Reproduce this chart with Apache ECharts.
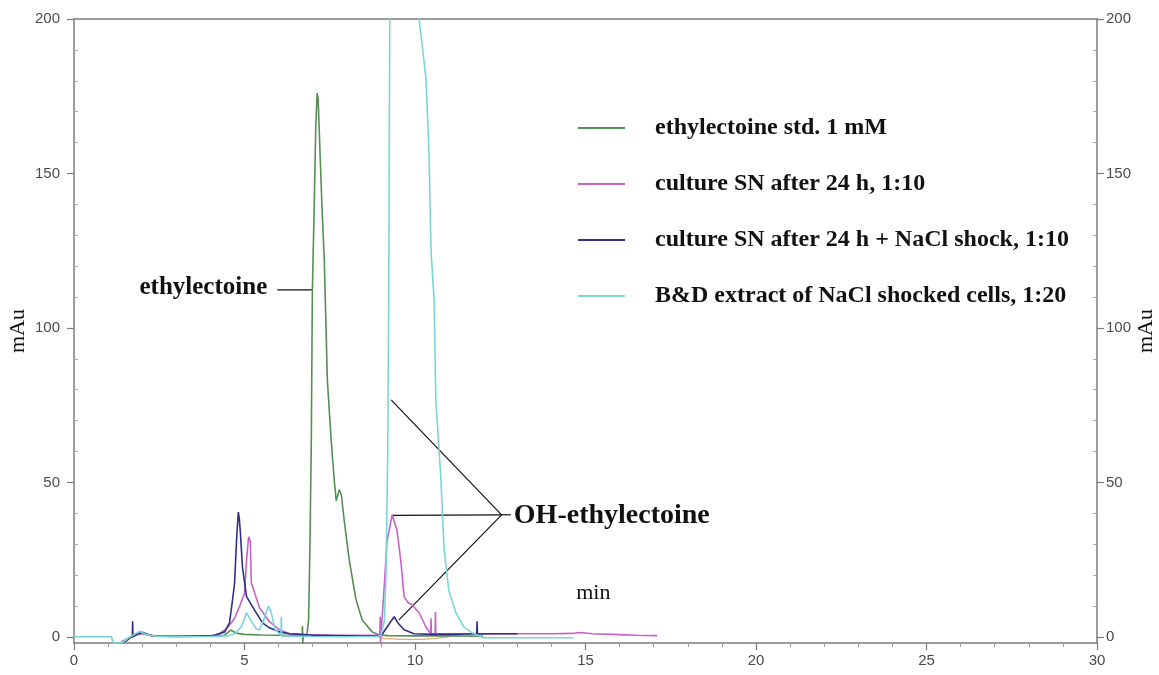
<!DOCTYPE html>
<html>
<head>
<meta charset="utf-8">
<title>HPLC chromatogram – ethylectoine</title>
<script src="https://cdn.jsdelivr.net/npm/echarts@6/dist/echarts.min.js"></script>
<style>
  html, body { margin: 0; padding: 0; background: #fff; }
  #chart { width: 1159px; height: 675px; }
</style>
</head>
<body>
<div id="chart"></div>
<script>
// Retention time (min) / absorbance (mAu) pairs for each run
const ethylectoineStd = [
  [1.4,-1.8],[1.6,-0.5],[1.8,0.8],[2.0,1.2],[2.3,0.3],[3,0.2],[4,0.3],[4.4,0.5],[4.6,2.2],[4.75,1.2],
  [5.0,0.8],[5.5,0.6],[6.0,0.5],[6.5,0.4],[6.69,0.3],[6.7,3.5],[6.71,-2.5],[6.72,0.3],[6.8,0.3],
  [6.84,1.5],[6.88,5.5],[6.92,30],[6.96,64],[6.99,112],[7.04,137],[7.09,165],[7.13,176],[7.16,174],
  [7.22,155],[7.28,137],[7.34,122],[7.43,83],[7.54,64],[7.63,51],[7.69,44],[7.78,47.6],[7.84,46],
  [7.92,38],[8.07,25],[8.27,12],[8.45,5.5],[8.74,1.6],[8.95,0.6],[9.2,0.4],[10,0.3],[11,0.3],[12,0.2]
];
const cultureSN24h = [
  [1.4,-1.5],[1.6,-0.5],[1.8,0.5],[2.0,1],[2.3,0.3],[3,0.2],[4,0.2],[4.27,1],[4.5,2.9],[4.71,6],
  [4.85,9.7],[5.0,14],[5.06,25],[5.12,32.4],[5.17,31],[5.2,17.5],[5.44,9.4],[5.73,4.9],[6.02,2.3],
  [6.32,1],[6.8,0.7],[7.5,0.6],[8.5,0.5],[8.97,0.5],[8.98,6.5],[8.99,-2.5],[9.0,0.5],[9.09,15],
  [9.18,31],[9.33,39.5],[9.47,34.6],[9.59,24],[9.68,13],[9.8,11],[9.91,10.4],[10.12,7.8],[10.32,3.2],
  [10.46,1],[10.47,6],[10.48,1],[10.59,1],[10.6,8],[10.61,1],[11,1],[12,1],[13,1],[14,1],[14.6,1.1],
  [14.85,1.4],[15.2,1.0],[15.8,0.8],[16.5,0.5],[17.1,0.4]
];
const cultureSNNaCl = [
  [1.4,-2],[1.55,-1.2],[1.65,-0.3],[1.71,0],[1.72,5],[1.73,0],[1.85,0.8],[2.0,1.5],[2.15,0.8],
  [2.4,0.2],[3,0.1],[3.5,0.2],[4.0,0.3],[4.12,0.5],[4.42,1.6],[4.56,4.5],[4.65,12],[4.71,17.5],
  [4.77,32],[4.82,40.4],[4.85,38],[4.88,33.6],[4.94,22.6],[5.06,13],[5.29,8.7],[5.53,4.5],[5.73,2.9],
  [6.02,1.6],[6.32,1.0],[6.6,0.8],[7,0.5],[8,0.3],[8.9,0.3],[9.05,1],[9.2,3.5],[9.39,6.5],[9.5,4.5],
  [9.68,2.3],[9.97,1],[10.5,0.8],[11,0.8],[11.5,0.9],[11.81,0.9],[11.82,5],[11.83,0.9],[12.2,1],[13.0,1]
];
const bdExtract = [
  [0,0],[1.1,0],[1.15,-2],[1.4,-2],[1.6,-0.3],[1.8,1],[1.93,1.8],[2.1,0.8],[2.4,0.2],[3,0],[4,0.1],
  [4.5,0.3],[4.71,1],[4.91,3.2],[5.06,7.8],[5.2,5],[5.35,2.5],[5.44,2.3],[5.55,5],[5.7,10],[5.78,8],
  [5.9,2.3],[6.07,0.5],[6.08,6.5],[6.09,0.3],[6.5,0.2],[7,0.1],[8,0],[8.9,0.2],[9.0,0.5],[9.1,5],
  [9.15,20],[9.2,60],[9.23,110],[9.26,200],[9.3,240],[9.6,260],[10.0,235],[10.12,200],[10.32,181],
  [10.41,157],[10.47,125],[10.56,109],[10.61,77],[10.76,51],[10.85,29],[10.99,15],[11.2,7.8],
  [11.43,3.2],[11.67,1.3],[12,-0.3],[13,-0.3],[14,-0.3],[14.65,-0.3]
];
// faint baseline trace under the 9–11 min region
const baselineTrace = [[8.9,0],[9.1,-0.5],[9.6,-0.8],[10.2,-0.8],[10.6,-0.5],[11,0]];

const seriesNames = [
  'ethylectoine std. 1 mM',
  'culture SN after 24 h, 1:10',
  'culture SN after 24 h + NaCl shock, 1:10',
  'B&D extract of NaCl shocked cells, 1:20'
];
const seriesColors = ['#568f56', '#c662c6', '#2f2f88', '#79d6d6', '#e9a77a'];

const xTicks = [0, 5, 10, 15, 20, 25, 30];
const yMajor = [0, 50, 100, 150, 200];
const yMinor = [10,20,30,40,60,70,80,90,110,120,130,140,160,170,180,190];
const Y_MIN = -2, Y_MAX = 200;

const axisGray = '#7c7c7c';
const labelFont = { color: '#4a4a4a', fontSize: 15, fontFamily: '"Liberation Sans", Arial, sans-serif' };
const serif = '"Liberation Serif", "Times New Roman", serif';

function yAxisPair(side) {
  return [
    {
      type: 'value', min: Y_MIN, max: Y_MAX, position: side,
      axisLine: { show: true, onZero: false, lineStyle: { color: axisGray, width: 1.5 } },
      axisTick: { show: true, customValues: yMajor, length: 7, lineStyle: { color: axisGray, width: 1.2 } },
      axisLabel: Object.assign({ customValues: yMajor, margin: side === 'left' ? 14 : 9 }, labelFont),
      splitLine: { show: false },
      name: 'mAu', nameLocation: 'middle', nameRotate: 90, nameGap: side === 'left' ? 45 : 38,
      nameMoveOverlap: false,
      nameTextStyle: { fontFamily: serif, fontSize: 22, color: '#111' }
    },
    {
      type: 'value', min: Y_MIN, max: Y_MAX, position: side,
      axisLine: { show: false, onZero: false },
      axisTick: { show: true, inside: true, customValues: yMinor, length: 4, lineStyle: { color: '#aaa', width: 1 } },
      axisLabel: { show: false },
      splitLine: { show: false }
    }
  ];
}

const traces = [ethylectoineStd, cultureSN24h, cultureSNNaCl, bdExtract, baselineTrace];
const names = seriesNames.concat(['baseline']);

const option = {
  backgroundColor: '#fff',
  animation: false,
  color: seriesColors,
  grid: { left: 74, right: 62, top: 19, bottom: 32, containLabel: false, outerBoundsMode: 'none' },
  legend: {
    data: seriesNames,
    orient: 'vertical',
    left: 573, top: 111,
    icon: 'rect', itemWidth: 47, itemHeight: 2, itemGap: 32,
    textStyle: { fontFamily: serif, fontSize: 24, fontWeight: 'bold', color: '#111', lineHeight: 24, padding: [0, 0, 0, 25] }
  },
  xAxis: [
    {
      type: 'value', min: 0, max: 30, interval: 5, position: 'bottom',
      axisLine: { onZero: false, lineStyle: { color: axisGray, width: 1.5 } },
      axisTick: { length: 7, lineStyle: { color: axisGray, width: 1.2 } },
      minorTick: { show: true, splitNumber: 5, length: 4, lineStyle: { color: '#999' } },
      axisLabel: Object.assign({ customValues: xTicks, margin: 10 }, labelFont),
      splitLine: { show: false }
    },
    {
      type: 'value', min: 0, max: 30, position: 'top',
      axisLine: { onZero: false, lineStyle: { color: axisGray, width: 1.5 } },
      axisTick: { show: false }, axisLabel: { show: false }, splitLine: { show: false }
    }
  ],
  yAxis: yAxisPair('left').concat(yAxisPair('right')),
  series: traces.map((d, i) => ({
    name: names[i],
    type: 'line',
    data: d,
    xAxisIndex: 0, yAxisIndex: 0,
    showSymbol: false, symbol: 'none',
    clip: true,
    z: i === 4 ? 1 : 2 + i,
    lineStyle: { width: i === 4 ? 1.2 : 1.6 }
  }))
};

const chart = echarts.init(document.getElementById('chart'), null, { renderer: 'canvas' });
chart.setOption(option);

// annotation anchors in (min, mAu)
const ethLabelLine = [[5.96, 112.3], [6.99, 112.3]];
const ohApex = [12.54, 39.5];
const ohTargets = [[9.30, 76.7], [9.33, 39.3], [9.53, 5.5]];
const ohTail = [12.81, 39.5];
const minLabelAt = [15.23, 14.2];

const toPx = p => chart.convertToPixel({ xAxisIndex: 0, yAxisIndex: 0 }, p);
const lineStyle = { stroke: '#111', lineWidth: 1.2 };
const graphics = [];

const e0 = toPx(ethLabelLine[0]), e1 = toPx(ethLabelLine[1]);
graphics.push({ type: 'line', shape: { x1: e0[0], y1: e0[1], x2: e1[0], y2: e1[1] }, style: lineStyle });
graphics.push({
  type: 'text', x: e0[0] - 10, y: e0[1] - 2,
  style: { text: 'ethylectoine', font: 'bold 25px ' + serif, fill: '#111', textAlign: 'right', textVerticalAlign: 'middle' }
});

const apex = toPx(ohApex);
ohTargets.forEach(t => {
  const p = toPx(t);
  graphics.push({ type: 'line', shape: { x1: apex[0], y1: apex[1], x2: p[0], y2: p[1] }, style: lineStyle });
});
const tail = toPx(ohTail);
graphics.push({ type: 'line', shape: { x1: apex[0], y1: apex[1], x2: tail[0], y2: tail[1] }, style: lineStyle });
graphics.push({
  type: 'text', x: tail[0] + 3, y: tail[1] + 1,
  style: { text: 'OH-ethylectoine', font: 'bold 28px ' + serif, fill: '#111', textAlign: 'left', textVerticalAlign: 'middle' }
});

const mp = toPx(minLabelAt);
graphics.push({
  type: 'text', x: mp[0], y: mp[1],
  style: { text: 'min', font: '22px ' + serif, fill: '#111', textAlign: 'center', textVerticalAlign: 'middle' }
});

chart.setOption({ graphic: graphics });
</script>
</body>
</html>
